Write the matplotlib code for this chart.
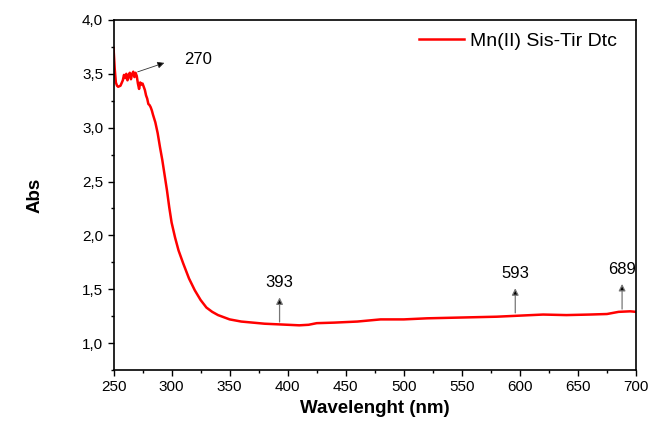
import numpy as np
import matplotlib
matplotlib.use("Agg")
import matplotlib.pyplot as plt
from matplotlib.ticker import MultipleLocator, FuncFormatter

""" Data (read from the picture) """
wavelength = [250, 251, 252, 253, 254, 256, 258, 259, 260, 261, 262, 263, 264, 265, 266, 267, 268, 269,
              270, 271, 272, 273, 274, 275, 276, 277, 278, 279, 280, 281, 282, 283, 284, 286, 288,
              290, 292, 294, 296, 298, 300, 303, 306, 310, 315, 320, 325, 330, 335, 340, 345,
              350, 360, 370, 380, 390, 400, 410, 418, 425, 440, 460, 480, 500, 520, 540, 560,
              580, 600, 620, 640, 660, 675, 685, 695, 700]
absorb = [3.74, 3.55, 3.42, 3.39, 3.38, 3.39, 3.44, 3.49, 3.46, 3.50, 3.44, 3.49, 3.51, 3.45, 3.50, 3.52, 3.47, 3.51,
          3.48, 3.41, 3.36, 3.42, 3.40, 3.41, 3.38, 3.35, 3.30, 3.27, 3.22, 3.21, 3.19, 3.16, 3.12, 3.05, 2.95,
          2.82, 2.70, 2.56, 2.42, 2.26, 2.12, 1.98, 1.86, 1.74, 1.60, 1.49, 1.40, 1.33, 1.29, 1.26, 1.24,
          1.22, 1.20, 1.19, 1.18, 1.175, 1.17, 1.165, 1.17, 1.185, 1.19, 1.20, 1.22, 1.22, 1.23, 1.235, 1.24,
          1.245, 1.255, 1.265, 1.26, 1.265, 1.27, 1.29, 1.295, 1.29]

series_label = "Mn(II) Sis-Tir Dtc"

# peak labels: (label, x of arrow, y start, y tip)
peak_labels = ["393", "593", "689"]
peak_x = [393, 596, 688]
peak_y0 = [1.17, 1.255, 1.29]
peak_y1 = [1.45, 1.535, 1.575]

plt.rcParams['font.family'] = ['Liberation Sans', 'DejaVu Sans']

fig = plt.figure(figsize=(6.69, 4.30), dpi=100)
ax = fig.add_axes([0.1697, 0.1395, 0.781, 0.814])

ax.plot(wavelength, absorb, color="red", lw=1.8, label=series_label)

""" Annotations """
ax.annotate("", xy=(296, 3.61), xytext=(268.5, 3.51),
            arrowprops=dict(arrowstyle="-|>", fc="black", ec="#333333", lw=0.6, mutation_scale=10))
ax.text(311, 3.63, "270", fontsize=12, va="center", ha="left")

for lab, px, y0, y1 in zip(peak_labels, peak_x, peak_y0, peak_y1):
    ax.annotate("", xy=(px, y1), xytext=(px, y0),
                arrowprops=dict(arrowstyle="-|>", fc="black", ec="#777777", lw=0.9, mutation_scale=10))
    ax.text(px, y1 + 0.04, lab, fontsize=12, ha="center", va="bottom")

""" Axes """
ax.set_xlim(250, 700)
ax.set_ylim(0.75, 4.0)
ax.xaxis.set_major_locator(MultipleLocator(50))
ax.xaxis.set_minor_locator(MultipleLocator(25))
ax.yaxis.set_major_locator(MultipleLocator(0.5))
ax.yaxis.set_minor_locator(MultipleLocator(0.25))
ax.yaxis.set_major_formatter(FuncFormatter(lambda v, p: f"{v:.1f}".replace(".", ",")))
ax.tick_params(which="both", direction="out", labelsize=11, width=1)
ax.tick_params(which="major", length=4)
ax.tick_params(which="minor", length=2.5)
for s in ax.spines.values():
    s.set_linewidth(1.2)

ax.set_xlabel("Wavelenght (nm)", fontsize=13.5, fontweight="bold")
ax.set_ylabel("Abs", fontsize=13.5, fontweight="bold", labelpad=28)

ax.legend(loc="upper right", bbox_to_anchor=(1.0, 1.02), frameon=False, fontsize=14,
          handlelength=2.3, handletextpad=0.3, borderaxespad=0.6)

fig.savefig("out.png", dpi=100)
